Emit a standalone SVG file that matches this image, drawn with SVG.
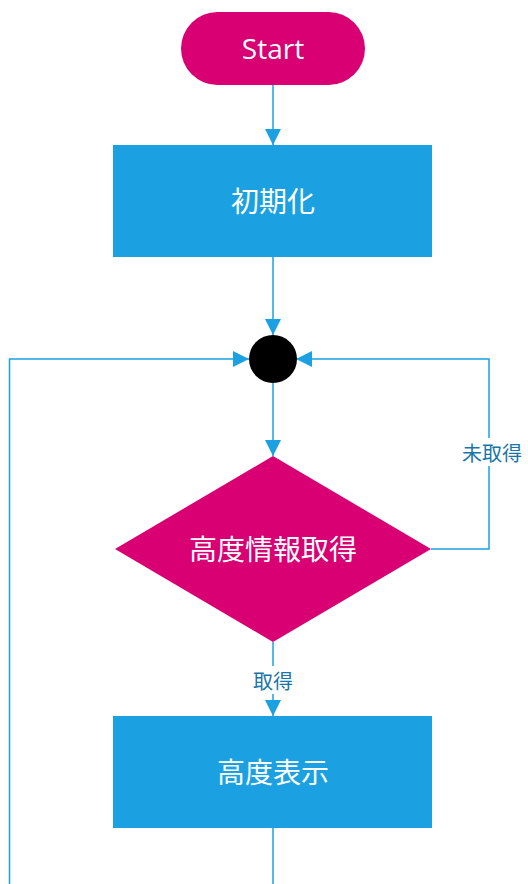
<svg xmlns="http://www.w3.org/2000/svg" width="528" height="884" viewBox="0 0 528 884">
<style>
.ln{fill:none;stroke:#1ba1e2;stroke-width:1.5}
.t{font-family:"Open Sans","Noto Sans CJK JP",sans-serif;fill:#fff;text-anchor:middle;dominant-baseline:central}
.lb{font-family:"Noto Sans CJK JP",sans-serif;fill:#1a75a8;font-size:20px;text-anchor:middle;dominant-baseline:central}
</style>
<defs>
<marker id="ah" markerWidth="16" markerHeight="16" refX="16" refY="8" orient="auto" markerUnits="userSpaceOnUse">
<path d="M0,0 L16,8 L0,16 Z" fill="#1ba1e2"/>
</marker>
</defs>
<rect width="528" height="884" fill="#fff"/>
<g id="connectors">
<path class="ln" d="M273,85 V145" marker-end="url(#ah)"/>
<path class="ln" d="M273,257 V335" marker-end="url(#ah)"/>
<path class="ln" d="M273,383 V456" marker-end="url(#ah)"/>
<path class="ln" d="M431,549 H489 V359 H296" marker-end="url(#ah)"/>
<rect x="456" y="438" width="72" height="28" fill="#fff"/>
<text class="lb" x="492" y="452">未取得</text>
<path class="ln" d="M273,642 V716" marker-end="url(#ah)"/>
<rect x="248" y="666" width="50" height="28" fill="#fff"/>
<text class="lb" x="273" y="680">取得</text>
<path class="ln" d="M273,828 V884"/>
<path class="ln" d="M9.5,884 V359 H249" marker-end="url(#ah)"/>
</g>
<g id="start">
<rect x="181" y="12" width="184" height="73" rx="36.5" fill="#d80073"/>
<text class="t" x="273" y="48" font-size="28">Start</text>
</g>
<g id="init">
<rect x="113" y="145" width="319" height="112" fill="#1ba1e2"/>
<text class="t" x="273" y="201" font-size="28">初期化</text>
</g>
<g id="junction">
<circle cx="273" cy="359" r="24" fill="#000"/>
</g>
<g id="decision">
<polygon points="273,456 431,549 273,642 115,549" fill="#d80073"/>
<text class="t" x="273" y="549" font-size="28">高度情報取得</text>
</g>
<g id="display">
<rect x="113" y="716" width="319" height="112" fill="#1ba1e2"/>
<text class="t" x="273" y="772" font-size="28">高度表示</text>
</g>
</svg>
